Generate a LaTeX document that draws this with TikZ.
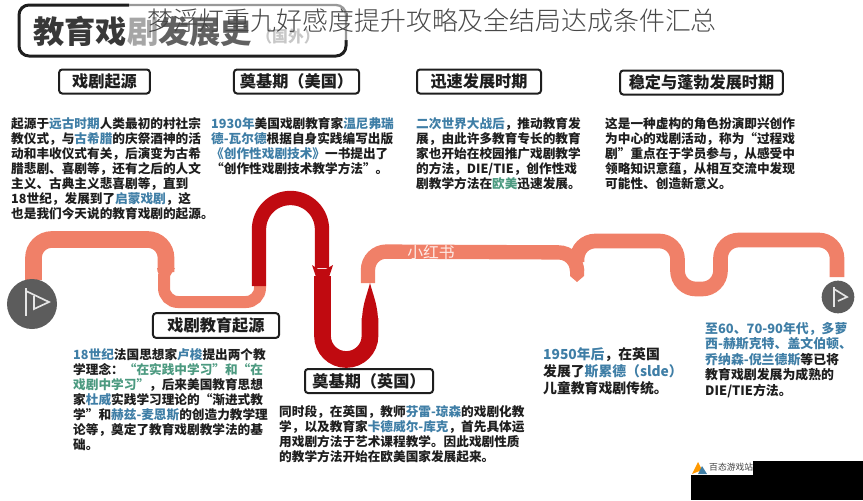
\documentclass[tikz,border=0pt]{standalone}
\usepackage{fontspec}
\setmainfont{Noto Sans CJK SC}
\newfontfamily\thinfont{Noto Sans CJK SC Light}
\usetikzlibrary{calc}
\definecolor{pipesalmon}{HTML}{F08068}
\definecolor{pipered}{HTML}{C00A10}
\definecolor{inkdark}{HTML}{1E1E1E}
\definecolor{inkblue}{HTML}{3F7EA6}
\definecolor{inkgreen}{HTML}{4C9A80}
\definecolor{flaggrey}{HTML}{5C5C5C}
\newcommand{\bl}[1]{{\color{inkblue}#1}}
\newcommand{\gr}[1]{{\color{inkgreen}#1}}
\tikzset{
  pipe/.style={draw=pipesalmon,line width=0.5cm,rounded corners=0.55cm},
  pipethin/.style={draw=pipesalmon,line width=0.36cm,rounded corners=0.42cm},
  pipedark/.style={draw=pipered,line width=0.43cm,rounded corners=0.94cm},
  headbox/.style={draw=inkdark,line width=0.06cm,rounded corners=0.09cm,fill=white,text=inkdark,font=\fontsize{13.8}{16}\selectfont\bfseries,anchor=center,inner sep=0pt},
  bodytext/.style={anchor=north west,inner sep=0pt,align=left,text=inkdark,font=\fontsize{10.8}{12.85}\selectfont\bfseries},
  flagline/.style={draw=white!90!black,line width=0.05cm}
}
\begin{document}
\begin{tikzpicture}[x=0.03cm,y=-0.03cm]
\useasboundingbox (0,0) rectangle (863,500);
% title box
\draw[draw=inkdark,line width=0.09cm,rounded corners=0.3cm] (129,5) -- (19,5) -- (19,56) -- (346,56) -- (346,40);
\draw[draw=black!40,line width=0.07cm,rounded corners=0.3cm] (129,5) -- (346,5) -- (346,40);
\node (titlemain) at (33,16) [anchor=north west,inner sep=0pt,text=black!78,font=\fontsize{26.7}{30}\selectfont\bfseries] {教育戏\textcolor{black!35}{剧}\textcolor{black!62}{发展史}};
\node (titlenote) at (288,36) [anchor=center,inner sep=0pt,text=black!22,font=\fontsize{13.5}{15}\selectfont\bfseries] {（国外）};
\node (overtitle) at (432,21) [anchor=center,inner sep=0pt,text=black!72,font=\fontsize{22.1}{26}\selectfont\thinfont] {梦浮灯重九好感度提升攻略及全结局达成条件汇总};
% heads
\node (headorigin) at (104.5,81.5) [headbox,minimum width=2.72cm,minimum height=0.72cm] {戏剧起源};
\node (headusa) at (296.5,81.5) [headbox,minimum width=3.75cm,minimum height=0.72cm] {奠基期（美国）};
\node (headfast) at (479,81.5) [headbox,minimum width=3.72cm,minimum height=0.72cm] {迅速发展时期};
\node (headstable) at (701.5,82.5) [headbox,minimum width=4.88cm,minimum height=0.72cm] {稳定与蓬勃发展时期};
% pipes
\draw[pipe] (33.5,280) -- (33.5,239.5) -- (166,239.5) -- (166,272);
\fill[pipesalmon] (157,268) -- (175,268) -- (170,276) -- (159,276) -- cycle;
\draw[pipethin] (164,274) -- (164,302) -- (260,302) -- (260,286);
\draw[pipedark] (259,286) -- (259,198) -- (322,198) -- (322,268);
\fill[pipered] (312,265) -- (318,269) -- (326,269) -- (333,265) -- (329,277) -- (316,277) -- cycle;
\draw[pipedark,line width=0.5cm,rounded corners=0.71cm] (322.5,276) -- (322.5,359.5) -- (370,359.5) -- (370,318);
\fill[pipered] (362,322) .. controls (362,305) and (367,295) .. (370,283) .. controls (373,295) and (378,305) .. (378,322) -- cycle;
\draw[pipe,line width=0.43cm] (368,283) -- (368,251.5) -- (577,252.5) -- (577,270);
\fill[pipesalmon] (570,268) -- (584,268) -- (584,276) -- (577,282) -- (570,276) -- cycle;
\draw[pipe,line width=0.44cm] (577,262) -- (577,241) -- (677.5,241) -- (677.5,289) -- (720.5,289) -- (720.5,240) -- (837,240) -- (837,277);
% flags
\fill[flaggrey] (32,304) circle [radius=0.75cm];
\draw[flagline] (26,288) -- (26,316);
\draw[flagline] (26,291) -- (49,302) -- (34,309) -- (34,296);
\fill[flaggrey] (838,297) circle [radius=0.49cm];
\draw[flagline] (834,287) -- (834,307);
\draw[flagline] (834,289) -- (847,297) -- (838,301);
\node (wmark) at (431,252) [anchor=center,inner sep=0pt,text=white!85!pipesalmon,font=\fontsize{13.5}{15}\selectfont] {小红书};
% lower heads
\node (headdrama) at (216,325.5) [headbox,minimum width=3.78cm,minimum height=0.74cm] {戏剧教育起源};
\node (headuk) at (369,381) [headbox,minimum width=3.84cm,minimum height=0.72cm] {奠基期（英国）};
% text blocks
\node (textorigin) at (11,117) [bodytext] {起源于\bl{远古时期}人类最初的村社宗\\教仪式，与\bl{古希腊}的庆祭酒神的活\\动和丰收仪式有关，后演变为古希\\腊悲剧、喜剧等，还有之后的人文\\主义、古典主义悲喜剧等，直到\\18世纪，发展到了\bl{启蒙戏剧}，这\\也是我们今天说的教育戏剧的起源。};
\node (textusa) at (211,117) [bodytext] {\bl{1930年}美国戏剧教育家\bl{温尼弗瑞}\\\bl{德-瓦尔德}根据自身实践编写出版\\\bl{《创作性戏剧技术》}一书提出了\\“创作性戏剧技术教学方法”。};
\node (textfast) at (416,117) [bodytext] {\bl{二次世界大战后}，推动教育发\\展，由此许多教育专长的教育\\家也开始在校园推广戏剧教学\\的方法，DIE/TIE，创作性戏\\剧教学方法在\gr{欧美}迅速发展。};
\node (textstable) at (605,117) [bodytext] {这是一种虚构的角色扮演即兴创作\\为中心的戏剧活动，称为“过程戏\\剧”重点在于学员参与，从感受中\\领略知识意蕴，从相互交流中发现\\可能性、创造新意义。};
\node (textdrama) at (73,348) [bodytext] {\bl{18世纪}法国思想家\bl{卢梭}提出两个教\\学理念：\gr{“在实践中学习”和“在}\\\gr{戏剧中学习”}，后来美国教育思想\\家\bl{杜威}实践学习理论的“渐进式教\\学”和\bl{赫兹-麦恩斯}的创造力教学理\\论等，奠定了教育戏剧教学法的基\\础。};
\node (textuk) at (279,405) [bodytext] {同时段，在英国，教师\bl{芬雷-琼森}的戏剧化教\\学，以及教育家\bl{卡德威尔-库克}，首先具体运\\用戏剧方法于艺术课程教学。因此戏剧性质\\的教学方法开始在欧美国家发展起来。};
\node (textslade) at (543,347) [bodytext,font=\fontsize{11.8}{14.5}\selectfont\bfseries] {\bl{1950年后}，在英国\\发展了\bl{斯累德（slde）}\\儿童教育戏剧传统。};
\node (textlate) at (705,322) [bodytext,font=\fontsize{11}{13.2}\selectfont\bfseries] {\bl{至60、70-90年代，多萝}\\\bl{西-赫斯克特、盖文伯顿、}\\\bl{乔纳森-倪兰德斯}等已将\\教育戏剧发展为成熟的\\DIE/TIE方法。};
% logo corner
\fill[black] (691,475) rectangle (753,500);
\fill[black] (753,461) rectangle (863,500);
\fill[orange!80!yellow] (692,474) -- (698,462) -- (702,470) -- cycle;
\fill[inkblue] (698,474) -- (702,466) -- (707,474) -- cycle;
\node (logotext) at (709,467) [anchor=west,inner sep=0pt,text=black!75,font=\fontsize{7.5}{8}\selectfont] {百态游戏站};
\end{tikzpicture}
\end{document}
